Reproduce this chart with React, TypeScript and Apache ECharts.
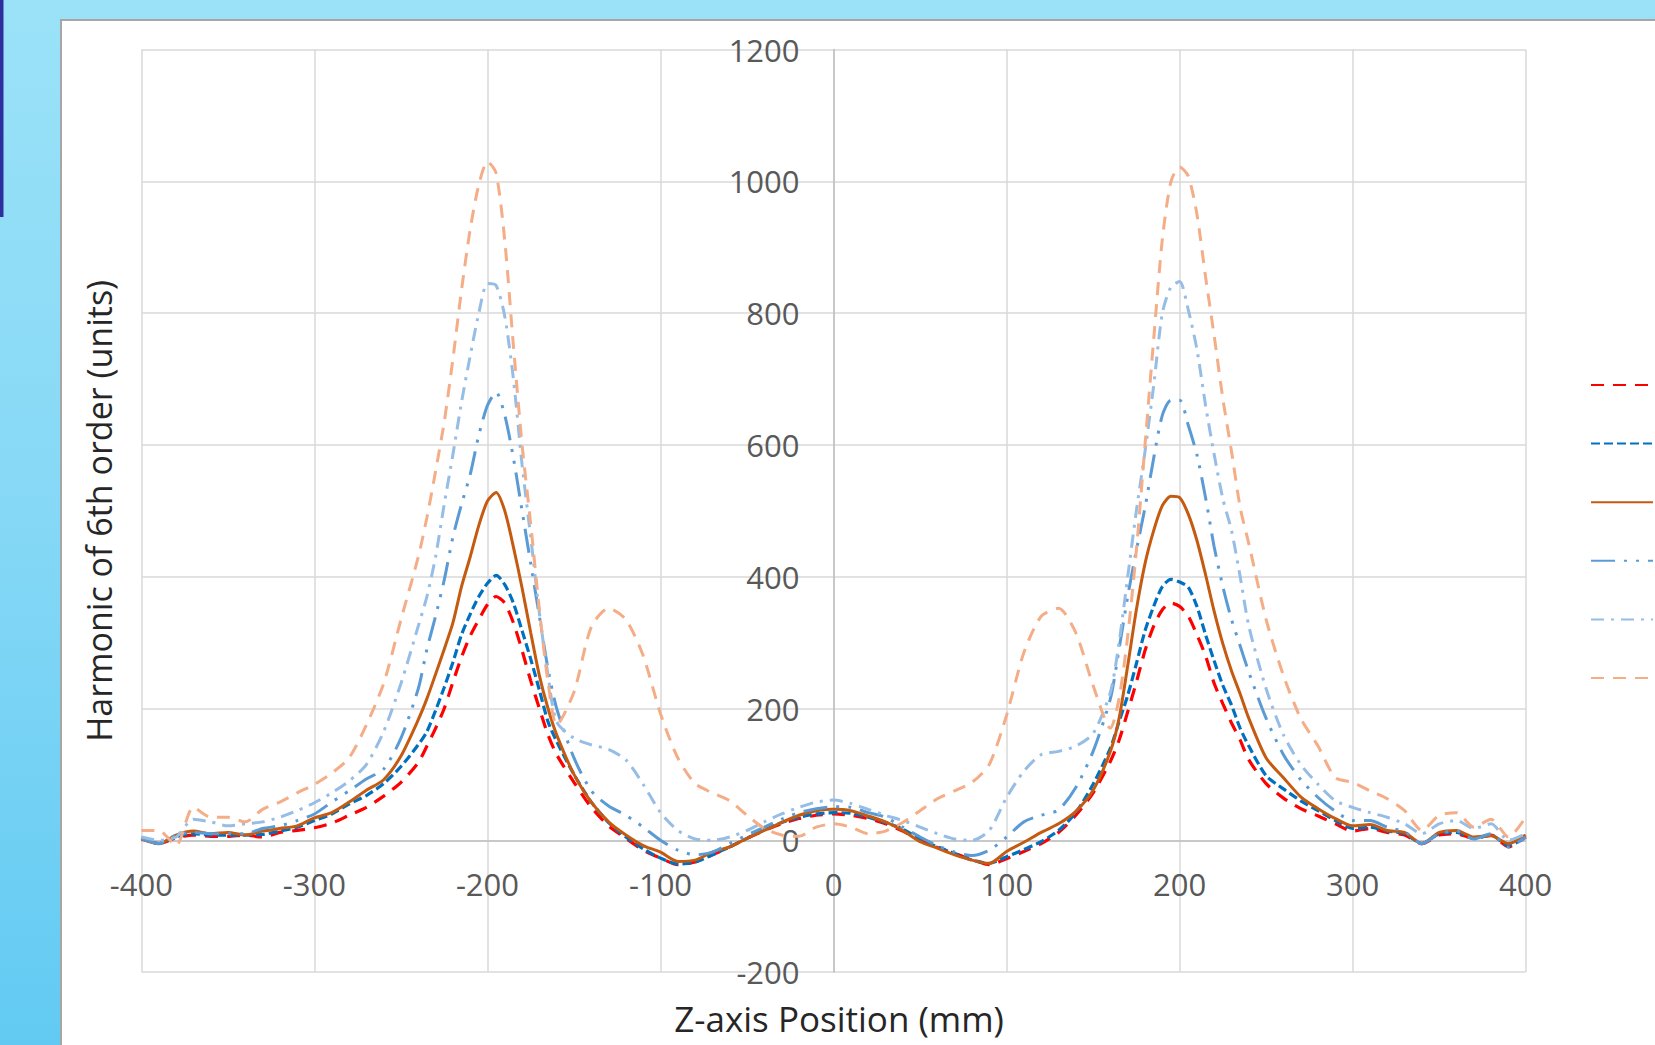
import React, { useEffect, useRef } from "react";
import * as echarts from "echarts";

const positions = [
  -400, -390, -380, -370, -360, -350, -340, -330, -320, -310, -300, -290, -280, -270, -260, -250, -240,
  -235, -230, -225, -220, -215, -210, -205, -200, -195, -190, -185, -180, -175, -170, -165, -160,
  -150, -140, -130, -120, -110, -100, -90, -80, -70, -60, -50, -40, -30, -20, -10, 0, 10, 20, 30, 40, 50, 60, 70, 80, 90, 100, 110, 120, 130, 140, 150,
  160, 165, 170, 175, 180, 185, 190, 195, 200, 205, 210, 215, 220, 225, 230, 235,
  240, 250, 260, 270, 280, 290, 300, 310, 320, 330, 340, 350, 360, 370, 380, 390, 400,
];

const series1 = [
  4, -5, 4, 8, 6, 6, 8, 5, 12, 15, 19, 26, 38, 50, 67, 88, 118,
  143, 170, 200, 240, 278, 310, 335, 358, 370, 360, 330, 288, 242, 200, 160, 130,
  88, 50, 22, 3, -15, -27, -37, -33, -22, -10, 3, 15, 25, 33, 38, 40, 38, 33, 25, 14, 0, -11, -20, -29, -37, -28, -17, -5, 12, 38, 72,
  120, 152, 195, 240, 288, 325, 350, 360, 355, 340, 312, 280, 238, 207, 178, 152,
  122, 86, 64, 48, 37, 25, 14, 18, 12, 8, -5, 8, 10, 3, 8, -10, 5,
];

const series2 = [
  3, -5, 5, 10, 8, 8, 8, 9, 14, 20, 30, 40, 55, 68, 86, 112, 145,
  165, 197, 232, 270, 312, 343, 370, 390, 402, 388, 360, 318, 275, 228, 180, 150,
  100, 58, 27, 5, -13, -27, -36, -33, -22, -10, 3, 16, 27, 35, 40, 42, 41, 35, 27, 17, 2, -10, -20, -30, -35, -25, -14, -2, 15, 42, 85,
  140, 180, 220, 268, 318, 355, 385, 396, 392, 384, 355, 312, 272, 235, 205, 170,
  143, 98, 78, 60, 45, 30, 18, 20, 14, 10, -5, 10, 12, 3, 8, -8, 5,
];

const series3 = [
  2, -5, 8, 14, 10, 12, 8, 14, 18, 22, 34, 42, 58, 76, 92, 128, 183,
  215, 252, 290, 330, 385, 430, 478, 515, 528, 500, 445, 383, 315, 250, 200, 160,
  100, 58, 28, 8, -8, -18, -32, -30, -18, -10, 3, 15, 27, 38, 45, 47, 45, 37, 28, 15, -2, -12, -22, -30, -35, -17, -3, 12, 25, 44, 76,
  135, 185, 265, 350, 420, 470, 508, 522, 520, 495, 455, 403, 347, 298, 257, 222,
  185, 125, 95, 66, 48, 33, 22, 24, 15, 12, -5, 12, 15, 5, 7, -5, 8,
];

const series4 = [
  3, -5, 8, 12, 10, 10, 10, 18, 22, 30, 40, 58, 75, 93, 108, 155, 230,
  290, 340, 395, 460, 510, 555, 615, 660, 680, 645, 580, 500, 420, 340, 260, 200,
  125, 75, 52, 38, 20, 0, -15, -22, -18, -5, 8, 20, 32, 42, 48, 51, 50, 42, 35, 20, 5, -8, -18, -23, -15, 5, 28, 38, 46, 80, 135,
  215, 290, 370, 440, 505, 580, 645, 668, 668, 630, 585, 520, 445, 385, 335, 295,
  255, 185, 130, 92, 65, 44, 30, 30, 20, 13, -5, 10, 14, 2, 10, -10, 5,
];

const series5 = [
  5, 0, 5, 32, 28, 22, 25, 28, 35, 45, 57, 72, 90, 115, 165, 238, 325,
  370, 430, 510, 585, 665, 735, 800, 845, 842, 795, 700, 570, 460, 345, 250, 180,
  155, 145, 138, 122, 85, 42, 15, 2, 0, 5, 15, 28, 40, 50, 58, 61, 56, 47, 38, 30, 20, 10, 2, 0, 15, 65, 105, 130, 135, 143, 162,
  225, 300, 400, 500, 590, 690, 800, 840, 848, 805, 745, 660, 585, 518, 470, 400,
  325, 230, 160, 115, 85, 60, 50, 42, 35, 25, 10, 25, 30, 18, 25, 0, 10,
];

const series6 = [
  15, 15, -8, 50, 35, 35, 28, 47, 58, 72, 85, 102, 125, 175, 238, 335, 430,
  490, 560, 635, 730, 835, 927, 995, 1030, 1012, 910, 750, 600, 480, 350, 240, 175,
  225, 324, 352, 335, 280, 192, 125, 86, 72, 60, 38, 18, 8, 6, 20, 25, 20, 10, 14, 27, 45, 63, 75, 88, 115, 190, 285, 340, 352, 315, 235,
  170, 215, 310, 440, 600, 760, 912, 1000, 1022, 1008, 950, 855, 765, 670, 590, 505,
  450, 335, 250, 185, 143, 95, 88, 75, 63, 45, 15, 38, 42, 20, 32, 5, 35,
];

const seriesNames = ["Series 1", "Series 2", "Series 3", "Series 4", "Series 5", "Series 6"];
const xTicks = { min: -400, max: 400, interval: 100 };
const yTicks = { min: -200, max: 1200, interval: 200 };

const FONT = "'Open Sans', 'Noto Sans', sans-serif";

const GRID = { left: 141.4, right: 129.3, top: 49.6, bottom: 72.9 };
const W = 1655;
const H = 1045;

export default function App() {
  const ref = useRef<HTMLDivElement>(null);

  useEffect(() => {
    if (!ref.current) return;
    const chart = echarts.init(ref.current, undefined, { renderer: "svg" });
    const pairs = (ys: number[]) => positions.map((x, i) => [x, ys[i]]);

    // axis crossing offsets (Excel draws axes through zero)
    const plotW = W - GRID.left - GRID.right;
    const plotH = H - GRID.top - GRID.bottom;
    const xZeroFrac = (0 - xTicks.min) / (xTicks.max - xTicks.min);
    const yZeroFrac = (0 - yTicks.min) / (yTicks.max - yTicks.min);
    const yAxisOffset = -plotW * xZeroFrac;
    const xAxisOffset = -plotH * yZeroFrac;

    const styles = [
      { color: "#ff0000", width: 3.2, type: [13, 9] },
      { color: "#0070c0", width: 3.2, type: [9, 4] },
      { color: "#c55a11", width: 3, type: "solid" },
      { color: "#5b9bd5", width: 3, type: [24, 9, 3, 9, 3, 9] },
      { color: "#95bde5", width: 3, type: [13, 7, 3, 7] },
      { color: "#f4ad86", width: 3, type: [13, 9] },
    ];
    const values = [series1, series2, series3, series4, series5, series6];

    chart.setOption({
      animation: false,
      textStyle: { fontFamily: FONT },
      graphic: [
        {
          type: "rect",
          z: -100,
          silent: true,
          shape: { x: 61, y: 20, width: 1700, height: 1100 },
          style: { fill: "#ffffff", stroke: "#a6a6a6", lineWidth: 2 },
        },
        {
          type: "rect",
          z: -100,
          silent: true,
          shape: { x: 0, y: 0, width: 3.5, height: 217 },
          style: { fill: "#2e2f9e" },
        },
      ],
      grid: {
        ...GRID,
        containLabel: false,
        outerBoundsMode: "none",
      },
      legend: {
        orient: "vertical",
        left: 1590,
        top: 378,
        padding: 0,
        itemWidth: 62,
        itemHeight: 14,
        itemGap: 46,
        data: seriesNames,
        formatter: () => "",
        selectedMode: false,
        itemStyle: { opacity: 0 },
      },
      xAxis: {
        type: "value",
        position: "bottom",
        offset: xAxisOffset,
        min: xTicks.min,
        max: xTicks.max,
        interval: xTicks.interval,
        name: "Z-axis Position (mm)",
        nameLocation: "middle",
        nameGap: 161,
        nameTextStyle: { fontFamily: FONT, fontSize: 35, color: "#262626", padding: [0, 0, 0, 11] },
        axisLine: { show: true, onZero: false, lineStyle: { color: "#bfbfbf", width: 1.5 } },
        axisTick: { show: false },
        axisLabel: { fontFamily: FONT, fontSize: 31, color: "#595959", margin: 28, formatter: (v: number) => String(v) },
        splitLine: { show: true, lineStyle: { color: "#d9d9d9", width: 1.5 } },
      },
      yAxis: {
        type: "value",
        position: "left",
        offset: yAxisOffset,
        min: yTicks.min,
        max: yTicks.max,
        interval: yTicks.interval,
        name: "Harmonic of 6th order (units)",
        nameLocation: "middle",
        nameGap: 718,
        nameTextStyle: { fontFamily: FONT, fontSize: 34, color: "#262626" },
        axisLine: { show: true, onZero: false, lineStyle: { color: "#bfbfbf", width: 1.5 } },
        axisTick: { show: false },
        axisLabel: { fontFamily: FONT, fontSize: 31, color: "#595959", margin: 34, formatter: (v: number) => String(v) },
        splitLine: { show: true, lineStyle: { color: "#d9d9d9", width: 1.5 } },
      },
      series: values.map((v, i) => ({
        name: seriesNames[i],
        type: "line",
        data: pairs(v),
        showSymbol: false,
        symbol: "none",
        smooth: 0.25,
        lineStyle: { color: styles[i].color, width: styles[i].width, type: styles[i].type, cap: "butt" },
        itemStyle: { color: styles[i].color },
        z: 2 + i,
      })),
    });
    return () => chart.dispose();
  }, []);

  return (
    <div
      ref={ref}
      style={{
        position: "fixed",
        left: 0,
        top: 0,
        width: W,
        height: H,
        background: "linear-gradient(180deg, #9be2f8 0%, #85d8f6 50%, #62caf2 100%)",
      }}
    />
  );
}
